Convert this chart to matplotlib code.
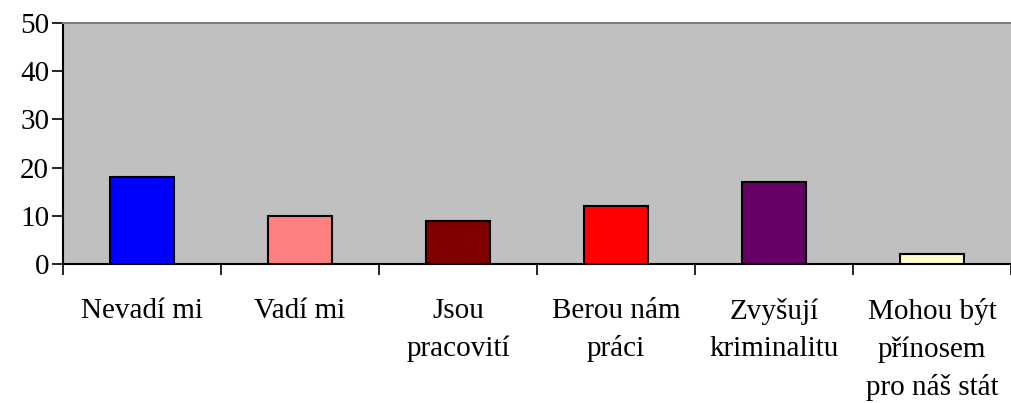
import matplotlib.pyplot as plt

categories = ["Nevadí mi", "Vadí mi", "Jsou\npracovití", "Berou nám\npráci",
              "Zvyšují\nkriminalitu", "Mohou být\npřínosem\npro náš stát"]
values = [18, 10, 9, 12, 17, 2]
colors = ["#0000FF", "#FF8080", "#800000", "#FF0000", "#660066", "#FFFFCC"]

plt.rcParams['font.family'] = ['Liberation Serif', 'DejaVu Serif']

fig = plt.figure(figsize=(10.11, 4.03), dpi=100)
ax = fig.add_axes([63 / 1011, 1 - 264 / 403, (1011 - 63) / 1011, (264 - 23) / 403])
ax.set_facecolor('#C0C0C0')

x = list(range(len(categories)))
ax.bar(x, values, width=0.4, color=colors, edgecolor='black', linewidth=1.5, zorder=3)

ax.set_xlim(-0.5, len(categories) - 0.5)
ax.set_ylim(0, 50)
ax.set_yticks(range(0, 51, 10))
ax.tick_params(axis='y', labelsize=21, length=8, width=1.2, pad=2)

# category boundaries carry the ticks, labels sit between them
ax.set_xticks([i - 0.5 for i in range(len(categories) + 1)])
ax.set_xticklabels([])
ax.tick_params(axis='x', length=8, width=1.2)
for i, lab in enumerate(categories):
    ax.text(i, -0.14, lab, transform=ax.get_xaxis_transform(), ha='center', va='top',
            fontsize=21, linespacing=1.55)

for side in ['top', 'right']:
    ax.spines[side].set_visible(False)
ax.spines['left'].set_linewidth(1.5)
ax.spines['bottom'].set_linewidth(1.5)
ax.axhline(50, color='#808080', linewidth=1.5, zorder=4, clip_on=False)

fig.savefig('out.png', dpi=100)
